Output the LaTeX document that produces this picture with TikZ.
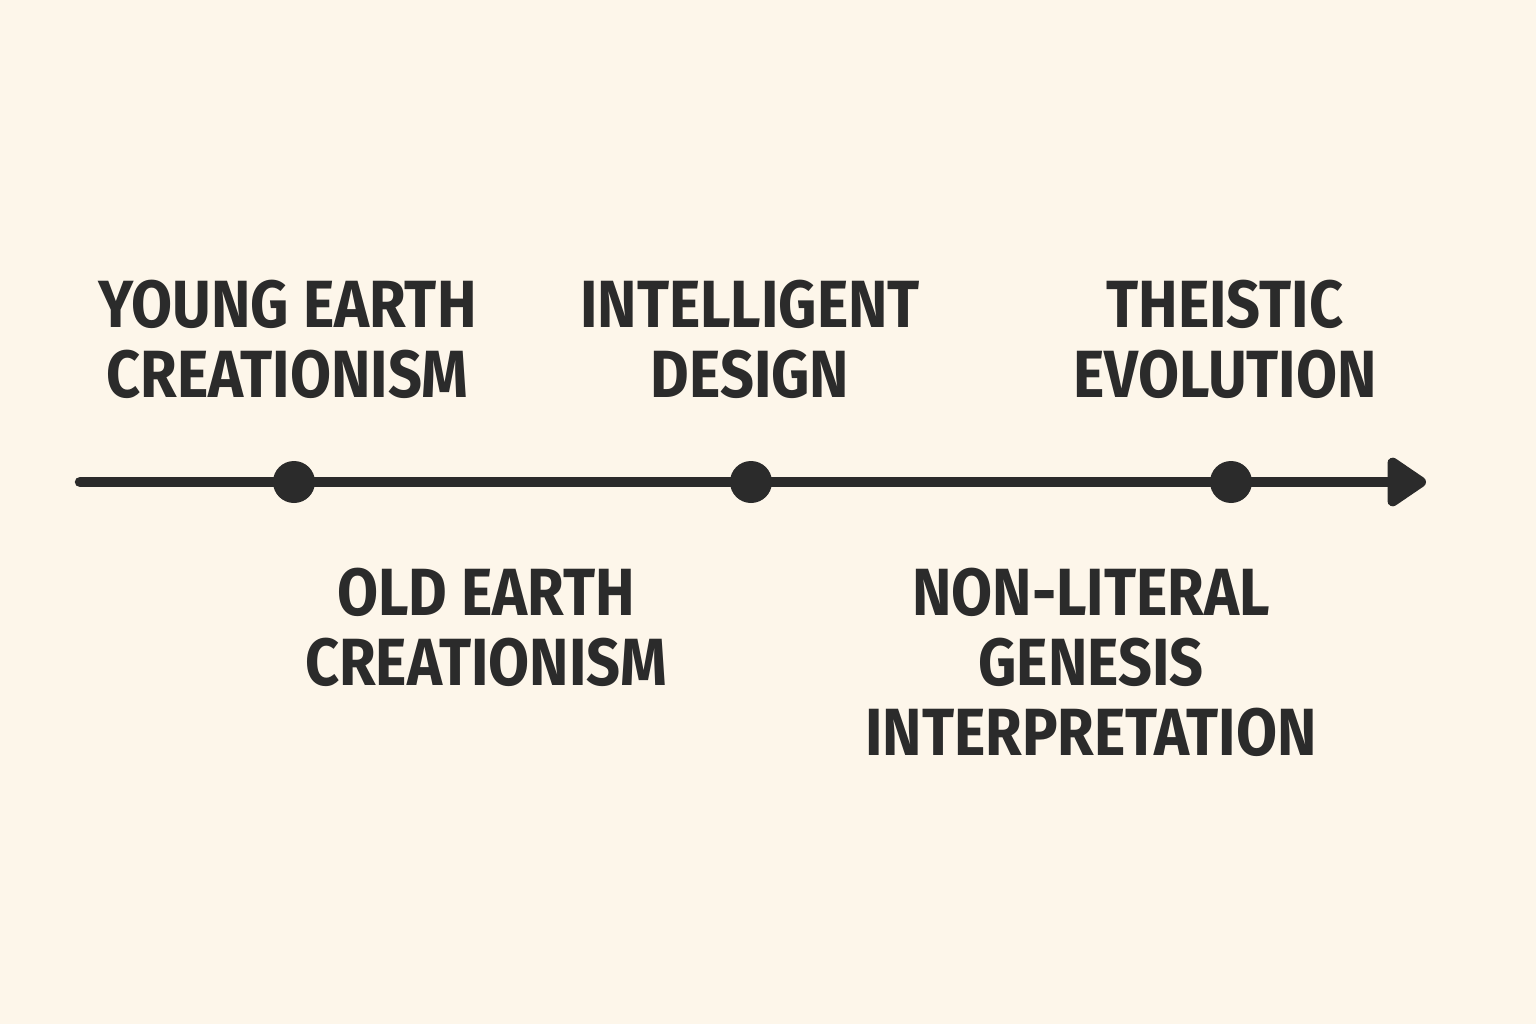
\documentclass[tikz,border=0pt]{standalone}
\usepackage{fontspec}
\setmainfont{Fira Sans}[FakeStretch=0.89]
\usepackage{tikz}
\usetikzlibrary{arrows.meta}
\definecolor{bgcream}{HTML}{FDF6EA}
\definecolor{ink}{HTML}{2B2B2B}

\begin{document}
\begin{tikzpicture}[
  lbl/.style={inner sep=0pt, anchor=south, align=center, text=ink,
    font=\fontsize{19}{19.9}\selectfont\bfseries},
  dot/.style={circle, fill=ink, inner sep=0pt, minimum size=4.2mm}]
\fill [bgcream] (0,0) rectangle (15.36,10.24);
\useasboundingbox (0,0) rectangle (15.36,10.24);
%%%%%%%%%
\coordinate (start) at (0.80,5.42);
\coordinate (end) at (14.26,5.42);
\draw [ink, line width=1.05mm, line cap=round,
  -{Triangle[length=4.3mm, width=5.5mm, round]}] (start) -- (end);
\node [dot] (yecdot) at (2.94,5.42) {};
\node [dot] (iddot) at (7.51,5.42) {};
\node [dot] (tedot) at (12.31,5.42) {};
%%%%%%%%%
\node [lbl] (yec) at (2.875,6.25) {YOUNG EARTH\\CREATIONISM};
\node [lbl] (id) at (7.50,6.25) {INTELLIGENT\\DESIGN};
\node [lbl] (te) at (12.25,6.25) {THEISTIC\\EVOLUTION};
\node [lbl] (oec) at (4.86,3.37) {OLD EARTH\\CREATIONISM};
\node [lbl] (nlg) at (10.91,2.67) {NON-LITERAL\\GENESIS\\INTERPRETATION};
\end{tikzpicture}
\end{document}
